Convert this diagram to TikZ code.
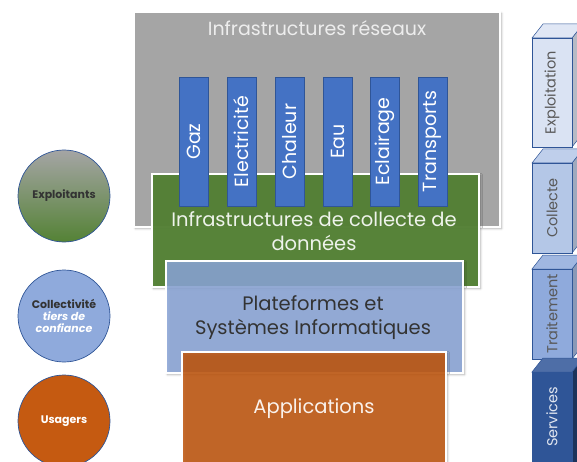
\documentclass[tikz,border=0pt]{standalone}
\usepackage{fontspec}
\setmainfont{Poppins}
\usetikzlibrary{shadows.blur}

\definecolor{netgray}{HTML}{A5A5A5}
\definecolor{nettext}{HTML}{EDEDED}
\definecolor{colblue}{HTML}{4472C4}
\definecolor{colline}{HTML}{2F5597}
\definecolor{collgreen}{HTML}{548235}
\definecolor{platblue}{HTML}{8FAADC}
\definecolor{apporange}{HTML}{C55A11}
\definecolor{darktext}{HTML}{333333}
\definecolor{lvltextc}{HTML}{595959}
\definecolor{lvlA}{HTML}{DAE3F3}
\definecolor{lvlB}{HTML}{B4C7E7}
\definecolor{lvlC}{HTML}{8FAADC}
\definecolor{lvlD}{HTML}{2F5597}

\tikzset{
  layer/.style={draw=white, line width=1.2pt,
    blur shadow={shadow xshift=1.5pt, shadow yshift=-1.5pt, shadow blur steps=4, shadow opacity=35}},
  column/.style={draw=colline, line width=0.5pt, fill=colblue},
  coltext/.style={text=white, rotate=90, font=\fontsize{19}{21}\selectfont},
  actor/.style={circle, draw=colline, line width=0.7pt, minimum size=92pt, inner sep=0pt,
    align=center, font=\fontsize{11}{14}\selectfont\bfseries},
  lvltext/.style={rotate=90, font=\fontsize{14.5}{16}\selectfont},
  bigtext/.style={font=\fontsize{19.5}{24}\selectfont, align=center},
}

\begin{document}
\begin{tikzpicture}[x=1pt,y=-1pt]
\useasboundingbox (0,0) rectangle (577,462);

% network infrastructures
\path[layer, fill=netgray] (134,12) rectangle (500,227);
\node[text=nettext, font=\fontsize{19}{22}\selectfont] (net) at (317,28) {Infrastructures réseaux};

% data collection layer
\path[layer, fill=collgreen, fill opacity=0.95] (152,174) rectangle (479,287);

% networks
\foreach \x/\n/\t in {179/gaz/Gaz, 227/elec/Electricité, 275/chal/Chaleur,
                      323/eau/Eau, 370/ecl/Eclairage, 418/trans/Transports}{
  \path[column] (\x,77) rectangle ++(29,129);
  \node[coltext] (\n) at (\x+14.5,141.5) {\t};
}

\node[bigtext, text=white!90!collgreen] (coll) at (314,231)
  {Infrastructures de collecte de\\données};

% platforms
\path[layer, fill=platblue, fill opacity=0.85] (166,261) rectangle (463,373);
\node[bigtext, text=darktext] (plat) at (313,318)
  {Plateformes et\\Systèmes Informatiques};

% applications
\path[layer, fill=apporange, fill opacity=0.85] (182,352) rectangle (446,470);
\node[bigtext, text=white!92!apporange] (app) at (314,409) {Applications};

% actors
\node[actor, top color=netgray, bottom color=collgreen, text=darktext] (expl) at (64,196) {Exploitants};
\node[actor, fill=platblue, text=darktext] (coll2) at (64,316)
  {Collectivité\\[-2pt]{\color{white}\itshape tiers de}\\[-2pt]{\color{white}\itshape confiance}};
\node[actor, fill=apporange, text=white] (usag) at (64,421) {Usagers};

% value chain levels
\foreach \top/\bot/\fc/\sc/\tc/\txt/\nm in {
    38/147/lvlA/lvlA!60!gray/lvltextc/Exploitation/lexp,
    163/253/lvlB/lvlB!60!gray/lvltextc/Collecte/lcol,
    269/359/lvlC/lvlC!60!gray/lvltextc/Traitement/ltra,
    372/475/lvlD/lvlD!60!black/white!85!lvlD/Services/lser}{
  \path[draw=colline, line width=0.5pt, fill=\sc] (572,\top) -- (583,\top-14) -- (583,\bot-14) -- (572,\bot) -- cycle;
  \path[draw=colline, line width=0.5pt, fill=\fc!85!white] (532,\top) -- (543,\top-14) -- (583,\top-14) -- (572,\top) -- cycle;
  \path[draw=colline, line width=0.5pt, fill=\fc] (532,\top) rectangle (572,\bot);
  \node[lvltext, text=\tc] (\nm) at (552,{(\top+min(\bot,462))/2}) {\txt};
}
\end{tikzpicture}
\end{document}
